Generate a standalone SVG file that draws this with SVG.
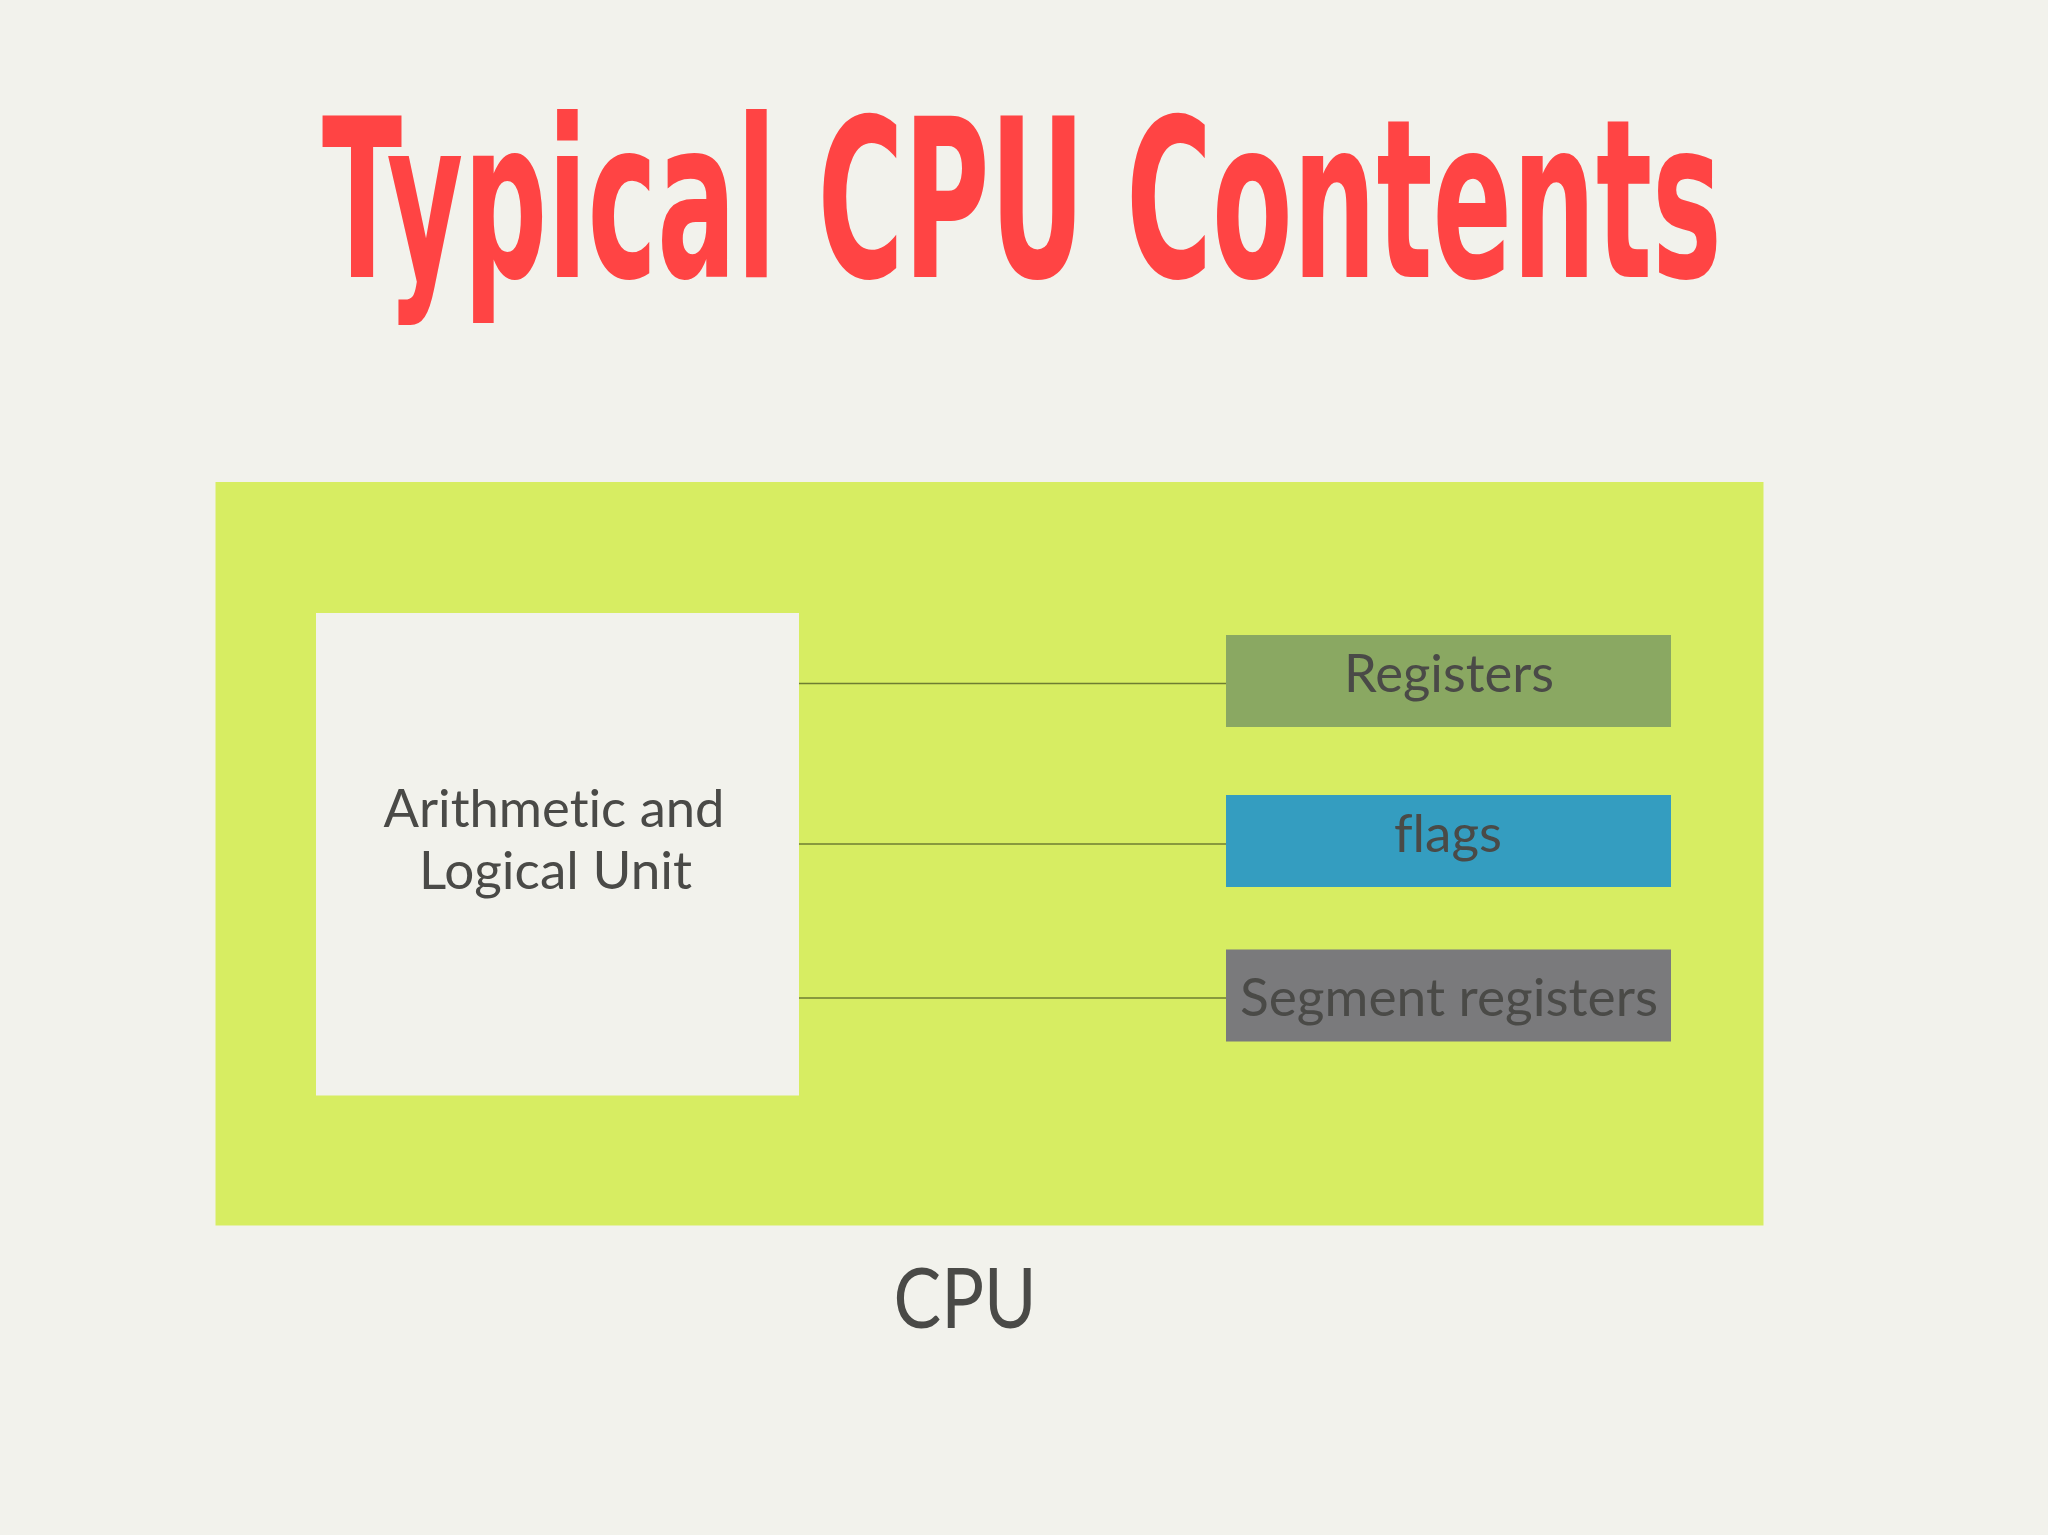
<svg xmlns="http://www.w3.org/2000/svg" width="2048" height="1535" viewBox="0 0 2048 1535">
<style>
.lbl{font-family:Lato,"Noto Sans","Liberation Sans",sans-serif;fill:#4a4a47;text-anchor:middle;font-variant-ligatures:none;font-feature-settings:"liga" 0}
.conn{stroke:#6e7d32;stroke-width:1.5;fill:none}
</style>
<rect width="2048" height="1535" fill="#f2f2ec"/>
<text x="322" y="277" font-family="'Liberation Sans Narrow','DejaVu Sans Condensed',sans-serif" font-weight="bold" font-size="222" fill="#ff4444" textLength="1400" lengthAdjust="spacingAndGlyphs">Typical CPU Contents</text>
<g id="cpu">
<rect x="215.5" y="482" width="1548" height="743.5" fill="#d7ed62"/>
<text class="lbl" x="965" y="1328" font-size="84" textLength="143" lengthAdjust="spacingAndGlyphs">CPU</text>
</g>
<g id="connectors">
<line class="conn" x1="799" y1="683.5" x2="1226" y2="683.5"/>
<line class="conn" x1="799" y1="844" x2="1226" y2="844"/>
<line class="conn" x1="799" y1="998" x2="1226" y2="998"/>
</g>
<g id="alu">
<rect x="316" y="613" width="483" height="482.5" fill="#f2f2ec"/>
<text class="lbl" x="554" y="827" font-size="53" textLength="341" lengthAdjust="spacingAndGlyphs">Arithmetic and</text>
<text class="lbl" x="555.5" y="889" font-size="53" textLength="273" lengthAdjust="spacingAndGlyphs">Logical Unit</text>
</g>
<g id="registers">
<rect x="1226" y="635" width="445" height="92" fill="#8aa862"/>
<text class="lbl" x="1449" y="692" font-size="53" textLength="210" lengthAdjust="spacingAndGlyphs">Registers</text>
</g>
<g id="flags">
<rect x="1226" y="795" width="445" height="92" fill="#349dc0"/>
<text class="lbl" x="1448" y="852" font-size="53">flags</text>
</g>
<g id="segment">
<rect x="1226" y="949.5" width="445" height="92" fill="#7a7a7c"/>
<text class="lbl" x="1449" y="1015.5" font-size="53" textLength="418" lengthAdjust="spacingAndGlyphs">Segment registers</text>
</g>
</svg>
